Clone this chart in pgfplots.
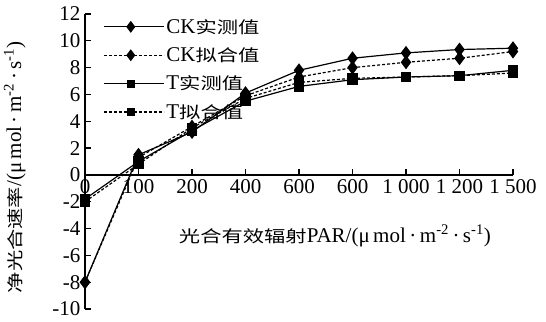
\documentclass[border=0pt]{standalone}
\usepackage{fontspec}
\setmainfont{Liberation Serif}
\newfontfamily\cjk{Noto Sans CJK SC}[Scale=0.78, FakeStretch=1.3]
\usepackage{pgfplots}
\pgfplotsset{compat=1.18}
\begin{document}
\begin{tikzpicture}[font=\fontsize{21}{25}\selectfont]
\begin{axis}[
  scale only axis,
  width=428pt, height=295pt,
  xmin=0, xmax=8, ymin=-10, ymax=12,
  axis y line=left, axis x line=middle,
  hide obscured x ticks=false,
  axis line style={-, line width=1.2pt},
  xtick={0,...,8},
  xticklabels={0,100,200,400,600,600,{1 000},{1 200},{1 500}},
  ytick={-10,-8,...,12},
  yticklabels={-10,-8,-6,-4,-2,0,2,4,6,8,10,12},
  tick align=inside,
  major tick length=6pt,
  tick style={line width=1.2pt, black},
  x tick label style={anchor=north, yshift=-1pt},
  y tick label style={xshift=-1pt},
  xlabel={{\cjk 光合有效辐射}PAR/(μ\,mol\,·\,m\textsuperscript{-2}\,·\,s\textsuperscript{-1})},
  xlabel style={at={(axis description cs:0.584,0.247)}, anchor=center},
  ylabel={{\cjk 净光合速率}/(μ\,mol\,·\,m\textsuperscript{-2}\,·\,s\textsuperscript{-1})},
  ylabel style={at={(axis description cs:-0.164,0.48)}, anchor=center},
  legend style={at={(axis description cs:0.042,0.99)}, anchor=north west, draw=none, fill=none,
    row sep=9pt, inner sep=0pt, nodes={inner sep=2pt}},
  legend cell align=left,
  legend image code/.code={\path (0pt,0pt) -- (60pt,0pt);\draw[mark repeat=2,mark phase=2,#1] plot coordinates {(0pt,0pt)(27pt,0pt)(54pt,0pt)};},
  every axis plot/.append style={black, line width=1.2pt},
]
\coordinate (LL) at (rel axis cs:0,0);
\coordinate (UR) at (rel axis cs:1,1);
\addplot[solid, mark=diamond*, mark size=6pt, mark options={solid}, legend image post style={mark size=5pt}] coordinates {
 (0,-8) (1,1.5) (2,3.2) (3,6.1) (4,7.8) (5,8.7) (6,9.1) (7,9.35) (8,9.45)};
\addlegendentry{CK{\cjk 实测值}}
\addplot[dash pattern=on 3pt off 2pt, mark=diamond*, mark size=6pt, mark options={solid}, legend image post style={mark size=5pt}] coordinates {
 (0,-8) (1,1.3) (2,3.6) (3,5.9) (4,7.3) (5,8.0) (6,8.4) (7,8.7) (8,9.2)};
\addlegendentry{CK{\cjk 拟合值}}
\addplot[solid, mark=square*, mark size=4.5pt, mark options={solid}, legend image post style={mark size=3.5pt}] coordinates {
 (0,-1.8) (1,1.0) (2,3.3) (3,5.5) (4,6.6) (5,7.1) (6,7.3) (7,7.4) (8,7.8)};
\addlegendentry{T{\cjk 实测值}}
\addplot[dash pattern=on 3pt off 2pt, mark=square*, mark size=4.5pt, mark options={solid}, legend image post style={mark size=3.5pt}] coordinates {
 (0,-2.0) (1,0.8) (2,3.5) (3,5.7) (4,6.9) (5,7.2) (6,7.3) (7,7.4) (8,7.6)};
\addlegendentry{T{\cjk 拟合值}}
\end{axis}
\pgfresetboundingbox
\path ([shift={(-85pt,-12pt)}]LL) rectangle ([shift={(33pt,14pt)}]UR);
\end{tikzpicture}
\end{document}
